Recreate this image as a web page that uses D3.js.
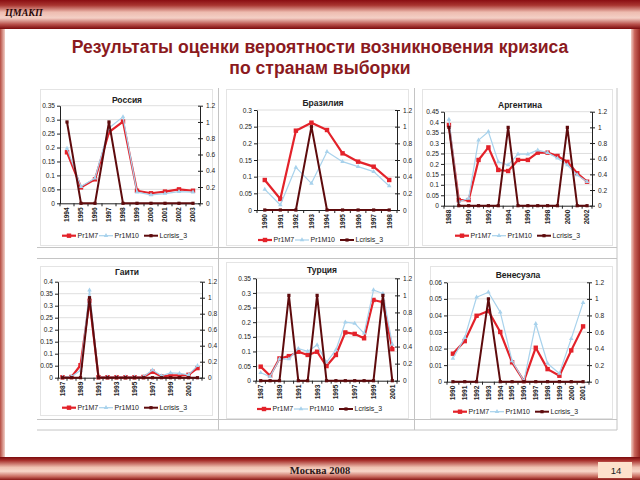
<!DOCTYPE html>
<html><head><meta charset="utf-8">
<script src="https://cdn.jsdelivr.net/npm/d3@7/dist/d3.min.js"></script>
<style>body{margin:0;background:#fff}svg{display:block}</style>
</head><body>
<svg id="c" width="640" height="480"></svg>
<script>
// ---------- data ----------
const seriesNames = ["Pr1M7", "Pr1M10", "Lcrisis_3"];
const countryNames = ["Россия", "Бразилия", "Аргентина", "Гаити", "Турция", "Венесуэла"];
const rightTicks = [0, 0.2, 0.4, 0.6, 0.8, 1, 1.2];

const russiaYears = ["1994","1995","1996","1997","1998","1999","2000","2001","2002","2003"];
const russiaPr1M7 = [0.183,0.057,0.086,0.255,0.293,0.045,0.036,0.042,0.050,0.045];
const russiaPr1M10 = [0.197,0.060,0.090,0.270,0.310,0.040,0.030,0.035,0.042,0.040];
const russiaLcrisis = [1,0,0,1,0,0,0,0,0,0];
const russiaTicks = [0,0.05,0.1,0.15,0.2,0.25,0.3,0.35];

const brazilYears = ["1990","1991","1992","1993","1994","1995","1996","1997","1998"];
const brazilPr1M7 = [0.090,0.033,0.238,0.262,0.240,0.170,0.145,0.130,0.090];
const brazilPr1M10 = [0.062,0.015,0.128,0.080,0.175,0.145,0.130,0.115,0.072];
const brazilLcrisis = [0,0,0,1,0,0,0,0,0];
const brazilTicks = [0,0.05,0.1,0.15,0.2,0.25,0.3];

const argentinaYears = ["1988","1989","1990","1991","1992","1993","1994","1995","1996","1997","1998","1999","2000","2001","2002"];
const argentinaPr1M7 = [0.386,0.027,0.027,0.219,0.279,0.171,0.166,0.219,0.219,0.254,0.254,0.238,0.210,0.155,0.115];
const argentinaPr1M10 = [0.413,0.019,0.035,0.314,0.354,0.210,0.195,0.247,0.247,0.266,0.254,0.227,0.195,0.147,0.115];
const argentinaLcrisis = [1,0,0,0,0,0,1,0,0,0,0,0,1,0,0];
const argentinaTicks = [0,0.05,0.1,0.15,0.2,0.25,0.3,0.35,0.4,0.45];

const haitiYears = ["1987","1988","1989","1990","1991","1992","1993","1994","1995","1996","1997","1998","1999","2000","2001","2002"];
const haitiPr1M7 = [0.002,0.003,0.052,0.320,0.002,0.002,0.002,0.002,0.002,0.003,0.025,0.005,0.010,0.010,0.012,0.040];
const haitiPr1M10 = [0.002,0.005,0.030,0.365,0.002,0.002,0.002,0.003,0.003,0.004,0.032,0.008,0.020,0.018,0.012,0.050];
const haitiLcrisis = [0,0,0,1,0,0,0,0,0,0,0,0,0,0,0,0];
const haitiTicks = [0,0.05,0.1,0.15,0.2,0.25,0.3,0.35,0.4];

const turkeyYears = ["1987","1988","1989","1990","1991","1992","1993","1994","1995","1996","1997","1998","1999","2000","2001"];
const turkeyPr1M7 = [0.048,0.017,0.076,0.084,0.099,0.088,0.099,0.050,0.088,0.165,0.160,0.145,0.276,0.268,0.108];
const turkeyPr1M10 = [0.027,0.014,0.074,0.074,0.110,0.100,0.122,0.063,0.105,0.200,0.196,0.162,0.310,0.298,0.124];
const turkeyLcrisis = [0,0,0,1,0,0,1,0,0,0,0,0,0,1,0];
const turkeyTicks = [0,0.05,0.1,0.15,0.2,0.25,0.3,0.35];

const venezuelaYears = ["1990","1991","1992","1993","1994","1995","1996","1997","1998","1999","2000","2001"];
const venezuelaPr1M7 = [0.0169,0.0245,0.0398,0.0427,0.0300,0.0117,0.0004,0.0205,0.0076,0.0036,0.0189,0.0334];
const venezuelaPr1M10 = [0.0140,0.0266,0.0510,0.0540,0.0420,0.0125,0.0004,0.0350,0.0110,0.0050,0.0260,0.0477];
const venezuelaLcrisis = [0,0,0,1,0,0,0,0,0,0,0,0];
const venezuelaTicks = [0,0.01,0.02,0.03,0.04,0.05,0.06];

// ---------- layout ----------
const panels = [
  {name:countryNames[0], years:russiaYears, s1:russiaPr1M7, s2:russiaPr1M10, s3:russiaLcrisis, ticks:russiaTicks,
   L:60, R:200, T:105.7, B:203.3, cx:127, ty:100, legY:235.7, every:1, box:[40,89,212,245]},
  {name:countryNames[1], years:brazilYears, s1:brazilPr1M7, s2:brazilPr1M10, s3:brazilLcrisis, ticks:brazilTicks,
   L:257, R:397, T:110, B:210, cx:323, ty:103, legY:240, every:1, box:[226,89,408,245]},
  {name:countryNames[2], years:argentinaYears, s1:argentinaPr1M7, s2:argentinaPr1M10, s3:argentinaLcrisis, ticks:argentinaTicks,
   L:444, R:592, T:111.7, B:205.7, cx:520, ty:105, legY:235.7, every:2, box:[422,89,612,245]},
  {name:countryNames[3], years:haitiYears, s1:haitiPr1M7, s2:haitiPr1M10, s3:haitiLcrisis, ticks:haitiTicks,
   L:58, R:202, T:281.7, B:377.7, cx:127, ty:272, legY:407.7, every:2, box:[40,266,212,415]},
  {name:countryNames[4], years:turkeyYears, s1:turkeyPr1M7, s2:turkeyPr1M10, s3:turkeyLcrisis, ticks:turkeyTicks,
   L:256, R:397, T:278.3, B:380.7, cx:322, ty:270, legY:409, every:2, box:[226,262,408,418]},
  {name:countryNames[5], years:venezuelaYears, s1:venezuelaPr1M7, s2:venezuelaPr1M10, s3:venezuelaLcrisis, ticks:venezuelaTicks,
   L:447, R:589, T:282.3, B:381.7, cx:518, ty:275, legY:411.7, every:1, box:[430,266,612,418]}
];

const RED = "#e3222a", BLUE = "#a8d2ec", DARK = "#5e0b0d";
const FONT = "'Liberation Sans', Arial, sans-serif";
const SERIF = "'Liberation Serif', 'Times New Roman', serif";

const svg = d3.select("#c");
const defs = svg.append("defs");
function grad(id, horiz, stops){
  const g = defs.append("linearGradient").attr("id", id)
    .attr("x1",0).attr("y1",0).attr("x2",horiz?1:0).attr("y2",horiz?0:1);
  stops.forEach(s => g.append("stop").attr("offset", s[0]).attr("stop-color", s[1]));
}
grad("topbar", false, [[0,"#8a0e12"],[0.18,"#a83530"],[0.42,"#eebcb0"],[0.62,"#f4d0c6"],[0.84,"#b8504a"],[1,"#7a0a0c"]]);
grad("botbar", false, [[0,"#7a0a0c"],[0.15,"#a8302c"],[0.45,"#f0c2b2"],[0.62,"#f8d6c8"],[0.85,"#c86a5e"],[1,"#8a1a16"]]);
grad("lside", true, [[0,"#b44a40"],[1,"#f2cfc6"]]);
grad("rside", true, [[0,"#f2cfc6"],[0.4,"#c8645a"],[1,"#9a2a24"]]);

svg.append("rect").attr("width",640).attr("height",480).attr("fill","#fff");
svg.append("rect").attr("x",0).attr("y",0).attr("width",5).attr("height",480).attr("fill","url(#lside)");
svg.append("rect").attr("x",631).attr("y",0).attr("width",9).attr("height",480).attr("fill","url(#rside)");
svg.append("rect").attr("x",0).attr("y",0).attr("width",640).attr("height",29).attr("fill","url(#topbar)");
svg.append("rect").attr("x",0).attr("y",457).attr("width",640).attr("height",23).attr("fill","url(#botbar)");

svg.append("text").attr("x",5).attr("y",16).text("ЦМАКП")
  .attr("font-family",SERIF).attr("font-style","italic").attr("font-weight","bold")
  .attr("font-size",10).attr("fill","#2a0808");
svg.append("text").attr("x",320).attr("y",474).attr("text-anchor","middle").text("Москва 2008")
  .attr("font-family",SERIF).attr("font-weight","bold").attr("font-size",10.5).attr("fill","#2a1616");
svg.append("rect").attr("x",598).attr("y",462).attr("width",34).attr("height",16).attr("fill","#fde2cc");
svg.append("text").attr("x",616).attr("y",474).attr("text-anchor","middle").text("14")
  .attr("font-family",FONT).attr("font-size",9.5).attr("fill","#222");

// main title
const titleLines = ["Результаты оценки вероятности возникновения кризиса", "по странам выборки"];
titleLines.forEach((t,i) => svg.append("text").attr("x",320).attr("y",53 + i*21).attr("text-anchor","middle")
  .text(t).attr("font-family",FONT).attr("font-weight","bold").attr("font-size",17.6).attr("fill","#8b1a1e"));

// table grid lines
const grid = svg.append("g").attr("stroke","#c4c4c4").attr("stroke-width",1);
[218.5, 414.5, 617].forEach(x => grid.append("line").attr("x1",x).attr("x2",x).attr("y1",88).attr("y2",430));
[247.5, 258.5, 419.5, 430].forEach(y => grid.append("line").attr("x1",37).attr("x2",617).attr("y1",y).attr("y2",y));

const fmt = d3.format("~g");

function marker(g, type, color, pts){
  if (type === "square") {
    g.selectAll(null).data(pts).join("rect")
      .attr("x", d => d[0]-2.2).attr("y", d => d[1]-2.2).attr("width",4.4).attr("height",4.4).attr("fill",color);
  } else if (type === "tri") {
    g.selectAll(null).data(pts).join("path")
      .attr("d", d3.symbol(d3.symbolTriangle, 9)).attr("transform", d => `translate(${d[0]},${d[1]})`).attr("fill",color);
  } else {
    g.selectAll(null).data(pts).join("rect")
      .attr("x", d => d[0]-1.6).attr("y", d => d[1]-1.6).attr("width",3.2).attr("height",3.2).attr("fill",color);
  }
}

function drawPanel(p){
  const g = svg.append("g");
  g.append("rect").attr("x",p.box[0]+0.5).attr("y",p.box[1]+0.5)
    .attr("width",p.box[2]-p.box[0]).attr("height",p.box[3]-p.box[1])
    .attr("fill","none").attr("stroke","#e4e4e4");

  const x = d3.scalePoint().domain(p.years).range([p.L, p.R]).padding(0.5);
  const yL = d3.scaleLinear().domain([0, d3.max(p.ticks)]).range([p.B, p.T]);
  const yR = d3.scaleLinear().domain([0, 1.2]).range([p.B, p.T]);
  const step = x.step();

  // gridlines
  g.selectAll(null).data(p.ticks.filter(t => t > 0)).join("line")
    .attr("x1",p.L).attr("x2",p.R).attr("y1",d => yL(d)).attr("y2",d => yL(d))
    .attr("stroke","#d6d6d6").attr("stroke-width",0.8);

  // left axis
  const gL = g.append("g").attr("transform",`translate(${p.L},0)`)
    .call(d3.axisLeft(yL).tickValues(p.ticks).tickFormat(fmt).tickSize(3).tickSizeOuter(0).tickPadding(2));
  // right axis
  const gR = g.append("g").attr("transform",`translate(${p.R},0)`)
    .call(d3.axisRight(yR).tickValues(rightTicks).tickFormat(fmt).tickSize(3).tickSizeOuter(0).tickPadding(3));
  gR.selectAll(".tick line").attr("x1",-2);
  [gL, gR].forEach(a => {
    a.selectAll("text").attr("font-family",FONT).attr("font-size",6.6).attr("fill","#222");
    a.selectAll("line").attr("stroke","#222");
    a.select(".domain").attr("stroke","#222");
  });

  // x axis
  g.append("line").attr("x1",p.L).attr("x2",p.R).attr("y1",p.B+0.5).attr("y2",p.B+0.5).attr("stroke","#222");
  g.selectAll(null).data(d3.range(p.years.length + 1)).join("line")
    .attr("x1", i => x(p.years[0]) - step/2 + i*step).attr("x2", i => x(p.years[0]) - step/2 + i*step)
    .attr("y1",p.B).attr("y2",p.B+3).attr("stroke","#222");
  g.selectAll(null).data(p.years.filter((d,i) => i % p.every === 0)).join("text")
    .attr("transform", d => `translate(${x(d)+2.4},${p.B+4}) rotate(-90)`)
    .attr("text-anchor","end").text(d => d)
    .attr("font-family",FONT).attr("font-weight","bold").attr("font-size",6.6).attr("fill","#222");

  // title
  g.append("text").attr("x",p.cx).attr("y",p.ty+3).attr("text-anchor","middle").text(p.name)
    .attr("font-family",FONT).attr("font-weight","bold").attr("font-size",8.5).attr("fill","#222");

  // series
  const specs = [
    {vals:p.s1, sc:yL, color:RED, w:2.2, m:"square"},
    {vals:p.s2, sc:yL, color:BLUE, w:1.2, m:"tri"},
    {vals:p.s3, sc:yR, color:DARK, w:2, m:"dot"}
  ];
  specs.forEach(s => {
    const pts = s.vals.map((v,i) => [x(p.years[i]), s.sc(v)]);
    g.append("path").attr("d", d3.line()(pts)).attr("fill","none")
      .attr("stroke", s.color).attr("stroke-width", s.w).attr("stroke-linejoin","round");
    marker(g, s.m, s.color, pts);
  });

  // legend
  const lx = p.cx - 65;
  const offs = [0, 37, 82];
  specs.forEach((s,i) => {
    const x0 = lx + offs[i];
    g.append("line").attr("x1",x0).attr("x2",x0+14).attr("y1",p.legY).attr("y2",p.legY)
      .attr("stroke",s.color).attr("stroke-width",s.w);
    marker(g, s.m, s.color, [[x0+7, p.legY]]);
    g.append("text").attr("x",x0+15.5).attr("y",p.legY+2.4).text(seriesNames[i])
      .attr("font-family",FONT).attr("font-size",7).attr("fill","#222");
  });
}

panels.forEach(drawPanel);
</script>
</body></html>
